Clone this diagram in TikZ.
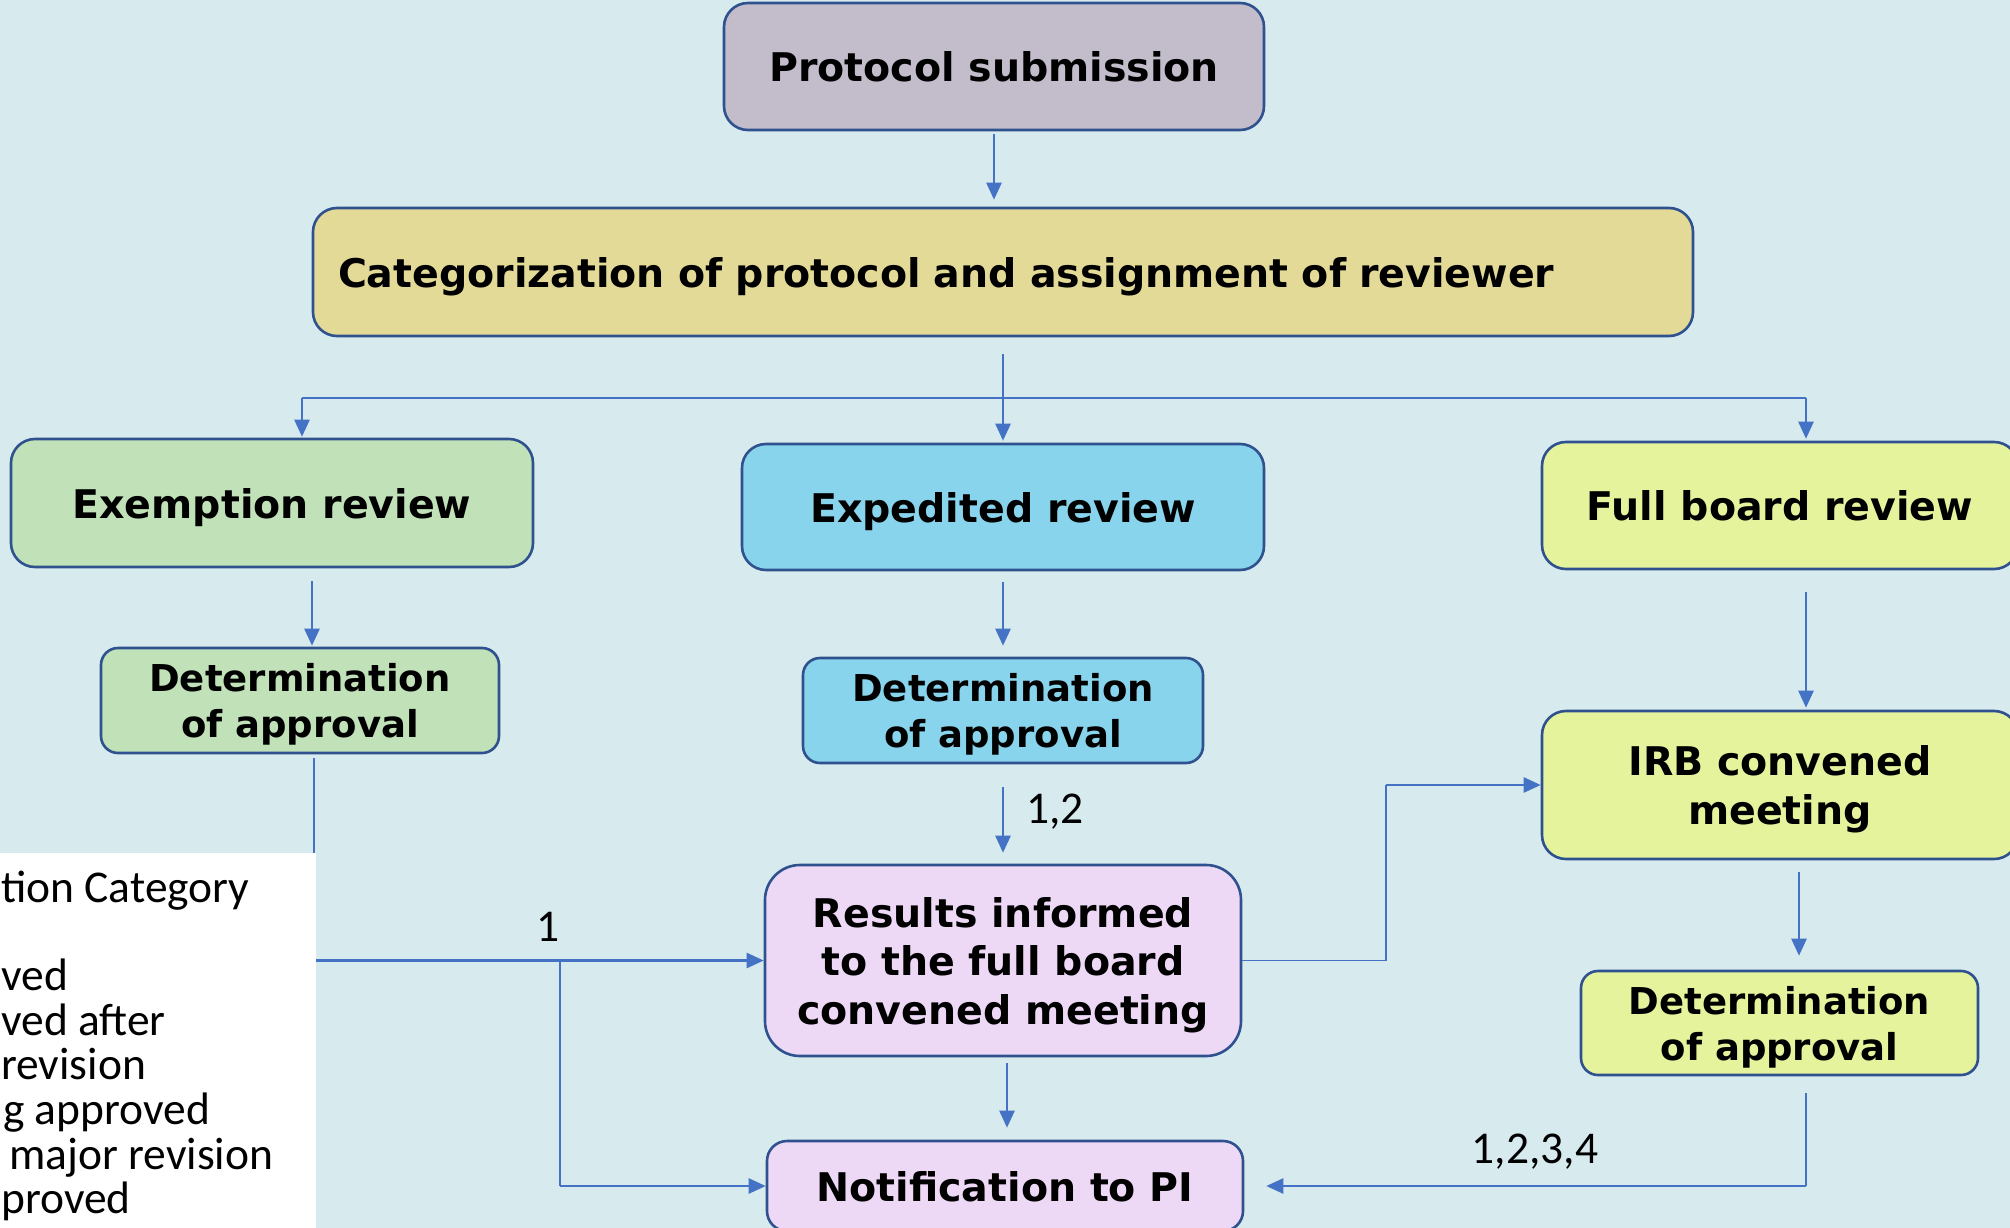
\documentclass[tikz,border=0pt]{standalone}
\usepackage{fontspec}
\setmainfont{DejaVu Sans}
\newfontfamily\carl{Carlito}
\usetikzlibrary{arrows.meta,calc}
\definecolor{bg}{HTML}{D7EAEE}
\definecolor{cprot}{HTML}{C3BCCB}
\definecolor{ccat}{HTML}{E4DA97}
\definecolor{cexe}{HTML}{C1E1B9}
\definecolor{cexp}{HTML}{88D4EC}
\definecolor{cfull}{HTML}{E6F39D}
\definecolor{cres}{HTML}{EDD9F5}
\definecolor{bordc}{HTML}{2F528F}
\definecolor{arrc}{HTML}{4472C4}
\begin{document}
\begin{tikzpicture}[x=1pt,y=-1pt,
  box/.style={draw=bordc, line width=2.6pt, rounded corners=24pt, align=center, inner sep=0pt,
    text depth=0pt, font=\bfseries\fontsize{39.5}{48.5}\selectfont},
  detbox/.style={box, rounded corners=17pt, font=\bfseries\fontsize{37}{46}\selectfont},
  arr/.style={draw=arrc, line width=2.5pt, -{Triangle[length=17pt,width=15pt]}},
  ln/.style={draw=arrc, line width=1.4pt},
  lbl/.style={font=\carl\fontsize{45.5}{45.5}\selectfont, inner sep=0pt},
  leg/.style={font=\carl\fontsize{45.5}{45.5}\selectfont, inner sep=0pt, anchor=base west}]
\useasboundingbox (0,0) rectangle (2010,1228);
\fill[bg] (0,0) rectangle (2010,1228);
\clip (0,0) rectangle (2010,1228);
% nodes
\node[box, fill=cprot, minimum width=540pt, minimum height=127pt] (prot) at (994,66.5) {Protocol submission};
\node[box, fill=ccat, minimum width=1380pt, minimum height=128pt, text width=1330pt, align=left] (cat) at (1003,272) {Categorization of protocol and assignment of reviewer};
\node[box, fill=cexe, minimum width=522pt, minimum height=128pt] (exe) at (272,503) {Exemption review};
\node[box, fill=cexp, minimum width=522pt, minimum height=126pt] (exp) at (1003,507) {Expedited review};
\node[box, fill=cfull, minimum width=476pt, minimum height=127pt] (full) at (1780,505.5) {Full board review};
\node[box, fill=cfull, minimum width=476pt, minimum height=148pt] (irb) at (1780,785) {IRB convened\\meeting};
\node[detbox, fill=cexe, minimum width=398pt, minimum height=105pt] (d1) at (300,700.5) {Determination\\of approval};
\node[detbox, fill=cexp, minimum width=400pt, minimum height=105pt] (d2) at (1003,710.5) {Determination\\of approval};
\node[detbox, fill=cfull, minimum width=397pt, minimum height=104pt] (d3) at (1779.5,1023) {Determination\\of approval};
\node[box, fill=cres, rounded corners=35pt, minimum width=476pt, minimum height=191pt] (res) at (1003,960.5) {Results informed\\to the full board\\convened meeting};
\node[box, fill=cres, rounded corners=20pt, minimum width=476pt, minimum height=90pt] (noti) at (1005,1186) {Notification to PI};
% helper coordinates
\coordinate (bl) at (302,398);
\coordinate (br) at (1806,398);
\coordinate (x312) at (312,0);
\coordinate (x314) at (314,0);
\coordinate (x560) at (560,0);
\coordinate (x1007) at (1007,0);
\coordinate (x1386) at (1386,0);
\coordinate (x1799) at (1799,0);
% connectors
\draw[arr, shorten <=3pt, shorten >=7pt] (prot.south) -- (prot.south |- cat.north);
\draw[arr, shorten <=17pt, shorten >=2pt] (cat.south) -- (exp.north);
\draw[ln] (bl) -- (br);
\draw[arr, shorten >=1pt] (bl) -- (bl |- exe.north);
\draw[arr, shorten >=2pt] (br) -- (br |- full.north);
\draw[arr, shorten <=13pt, shorten >=1pt] (exe.south -| x312) -- (d1.north -| x312);
\draw[arr, shorten <=11pt, shorten >=11pt] (exp.south) -- (d2.north);
\draw[arr, shorten <=22pt, shorten >=2pt] (full.south -| br) -- (irb.north -| br);
\draw[arr, shorten <=12pt, shorten >=14pt] (irb.south -| x1799) -- (d3.north -| x1799);
\draw[ln, shorten <=4pt] (d1.south -| x314) -- (x314 |- res.west);
\draw[arr] (x314 |- res.west) -- (res.west);
\node[lbl] (l1) at (548,927) {1};
\draw[ln] (x560 |- res.west) -- (x560 |- noti.west);
\draw[arr] (x560 |- noti.west) -- (noti.west);
\draw[arr, shorten <=23pt, shorten >=11pt] (d2.south) -- (res.north);
\node[lbl] (l12) at (1055,812) {1,2};
\draw[arr, shorten <=6pt, shorten >=12pt] (res.south -| x1007) -- (noti.north -| x1007);
\draw[ln] (res.east) -- (res.east -| x1386) -- (x1386 |- irb.west);
\draw[arr] (x1386 |- irb.west) -- (irb.west);
\draw[ln, shorten <=17pt] (d3.south -| br) -- (br |- noti.east);
\draw[arr, shorten >=22pt] (br |- noti.east) -- (noti.east);
\node[lbl] (l1234) at (1535,1152) {1,2,3,4};
% legend
\fill[white] (0,853) rectangle (316,1228);
\node[leg] (g1) at (1,902) {tion Category};
\node[leg] (g2) at (1,990) {ved};
\node[leg] (g3) at (1,1035) {ved after};
\node[leg] (g4) at (1,1079) {revision};
\node[leg] (g5) at (3,1124) {g approved};
\node[leg] (g6) at (9,1169) {major revision};
\node[leg] (g7) at (1,1213) {proved};
\end{tikzpicture}
\end{document}
